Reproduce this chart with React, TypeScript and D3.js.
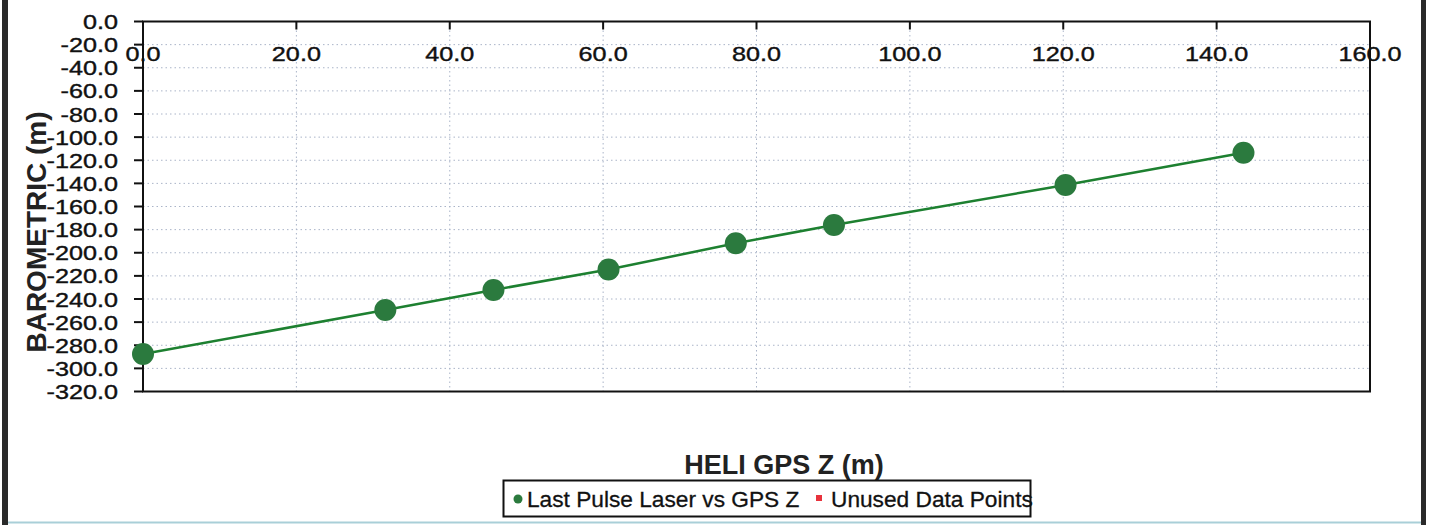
import React from "react";
import * as d3 from "d3";

// readings taken off the chart
const gpsZ = [0.0, 31.6, 45.7, 60.7, 77.3, 90.1, 120.3, 143.5];
const barometric = [-287.6, -249.5, -232.2, -214.5, -191.8, -176.0, -141.4, -113.5];
const xTicks = [0, 20, 40, 60, 80, 100, 120, 140, 160];
const yTicks = [0, -20, -40, -60, -80, -100, -120, -140, -160, -180, -200, -220, -240, -260, -280, -300, -320];
const seriesNames = ["Last Pulse Laser vs GPS Z", "Unused Data Points"];

const W = 1429;
const H = 525;
const font = "'Liberation Sans', Arial, sans-serif";

// plain hyphen for negatives, like the original
const fmt = (v: number) => v.toFixed(1);

const App = () => {
  const x = d3.scaleLinear().domain([0, 160]).range([143, 1370]);
  const y = d3.scaleLinear().domain([-320, 0]).range([391.5, 21.5]);

  const points = gpsZ.map((g, i) => [g, barometric[i]] as [number, number]);
  const line = d3.line<[number, number]>().x(d => x(d[0])).y(d => y(d[1]));

  const [x0, x1] = x.range();
  const [yb, yt] = y.range();

  return (
    <svg width={W} height={H} style={{ position: "absolute", left: 0, top: 0, background: "#fff" }} fontFamily={font}>
      {/* outer frame */}
      <rect x={2} y={0} width={6} height={H} fill="#2a2a2a" />
      <rect x={1421} y={0} width={5} height={H} fill="#2a2a2a" />
      <line x1={8} x2={1421} y1={522.5} y2={522.5} stroke="#a9cfd8" strokeWidth={2} />

      {/* grid */}
      {xTicks.slice(1, -1).map(t => (
        <line key={"gx" + t} x1={x(t)} x2={x(t)} y1={yt} y2={yb} stroke="#aab4c8" strokeWidth={1} strokeDasharray="1.5,3" />
      ))}
      {yTicks.slice(1, -1).map(t => (
        <line key={"gy" + t} x1={x0} x2={x1} y1={y(t)} y2={y(t)} stroke="#aab4c8" strokeWidth={1} strokeDasharray="1.5,3" />
      ))}

      {/* plot border */}
      <rect x={x0} y={yt} width={x1 - x0} height={yb - yt} fill="none" stroke="#111" strokeWidth={2} />

      {/* y axis ticks + labels */}
      {yTicks.map(t => (
        <g key={"yt" + t}>
          <line x1={x0 - 9} x2={x0} y1={y(t)} y2={y(t)} stroke="#111" strokeWidth={2} />
          <text transform={`translate(118,${y(t)}) scale(1.2,1)`} dy="0.36em" textAnchor="end" fontSize={21}
            fill="#111" stroke="#111" strokeWidth={0.4}>
            {fmt(t)}
          </text>
        </g>
      ))}

      {/* x axis ticks (top, inward) + labels */}
      {xTicks.map(t => (
        <g key={"xt" + t}>
          <line x1={x(t)} x2={x(t)} y1={yt} y2={yt + 8} stroke="#111" strokeWidth={2} />
          <text transform={`translate(${x(t)},61) scale(1.2,1)`} textAnchor="middle" fontSize={21}
            fill="#111" stroke="#111" strokeWidth={0.4}>
            {fmt(t)}
          </text>
        </g>
      ))}

      {/* series */}
      <path d={line(points) || ""} fill="none" stroke="#1d8030" strokeWidth={2.5} />
      {points.map((p, i) => (
        <circle key={"p" + i} cx={x(p[0])} cy={y(p[1])} r={11} fill="#2b7a3e" />
      ))}

      {/* axis titles */}
      <text x={784} y={474} textAnchor="middle" fontSize={27} fontWeight="bold" fill="#222">
        HELI GPS Z (m)
      </text>
      <text transform="translate(46,232) rotate(-90)" textAnchor="middle" fontSize={28} fontWeight="bold" fill="#222">
        BAROMETRIC (m)
      </text>

      {/* legend */}
      <rect x={503.5} y={480.5} width={527} height={36} fill="#fff" stroke="#111" strokeWidth={2} />
      <circle cx={518} cy={499} r={4.5} fill="#2b7a3e" />
      <text x={527} y={507} fontSize={22.7} fill="#111" stroke="#111" strokeWidth={0.3}>{seriesNames[0]}</text>
      <rect x={816} y={495} width={6} height={6} fill="#e8323c" />
      <text x={831} y={507} fontSize={22.7} fill="#111" stroke="#111" strokeWidth={0.3}>{seriesNames[1]}</text>
    </svg>
  );
};

export default App;
